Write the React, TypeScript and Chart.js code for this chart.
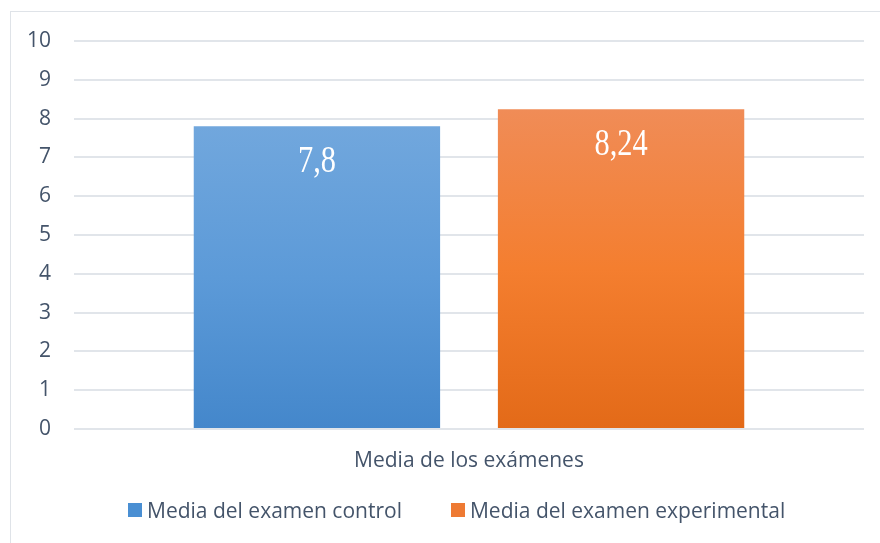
import React, { useEffect, useRef } from 'react';
import { Chart, registerables } from 'chart.js';

Chart.register(...registerables);

const categories = ['Media de los exámenes'];
const seriesNames = ['Media del examen control', 'Media del examen experimental'];
const controlValues = [7.8];
const experimentalValues = [8.24];
const yMin = 0;
const yMax = 10;
const yStep = 1;

const blueStops = ['#71a7dd', '#5c9ad8', '#4487cb'];
const orangeStops = ['#f08c57', '#f47e2f', '#e36a18'];
const legendColors = ['#4a8fd3', '#ee7a33'];

const FONT = '"Open Sans", Lato, sans-serif';
const TEXT_COLOR = '#44546a';

function gradientFill(stops: string[]) {
  return (c: any) => {
    const chart = c.chart;
    const area = chart.chartArea;
    if (!area || c.type !== 'data') return stops[1];
    const top = chart.scales.y.getPixelForValue(c.parsed ? c.parsed.y : c.raw);
    const g = chart.ctx.createLinearGradient(0, top, 0, area.bottom);
    g.addColorStop(0, stops[0]);
    g.addColorStop(0.5, stops[1]);
    g.addColorStop(1, stops[2]);
    return g;
  };
}

const valueLabelPlugin = {
  id: 'valueLabels',
  afterDatasetsDraw(chart: any) {
    const ctx = chart.ctx;
    chart.data.datasets.forEach((ds: any, i: number) => {
      const meta = chart.getDatasetMeta(i);
      meta.data.forEach((bar: any, j: number) => {
        const v = ds.data[j];
        const text = String(v).replace('.', ',');
        ctx.save();
        ctx.translate(bar.x, bar.y + 36);
        ctx.scale(0.8, 1);
        ctx.font = '38px "Liberation Serif", "Times New Roman", serif';
        ctx.fillStyle = '#ffffff';
        ctx.textAlign = 'center';
        ctx.textBaseline = 'middle';
        ctx.fillText(text, 0, 0);
        ctx.restore();
      });
    });
  },
};

export default function App() {
  const canvasRef = useRef<HTMLCanvasElement | null>(null);

  useEffect(() => {
    if (!canvasRef.current) return;
    const chart = new Chart(canvasRef.current, {
      type: 'bar',
      data: {
        labels: categories,
        datasets: [
          {
            label: seriesNames[0],
            data: controlValues,
            backgroundColor: gradientFill(blueStops),
            borderWidth: 0,
            categoryPercentage: 0.77,
            barPercentage: 0.81,
          },
          {
            label: seriesNames[1],
            data: experimentalValues,
            backgroundColor: gradientFill(orangeStops),
            borderWidth: 0,
            categoryPercentage: 0.77,
            barPercentage: 0.81,
          },
        ],
      },
      options: {
        responsive: false,
        animation: false,
        layout: { padding: { left: 10, right: 16, top: 41, bottom: 64 } },
        plugins: {
          legend: { display: false },
          tooltip: { enabled: false },
        },
        scales: {
          x: {
            grid: { display: false, drawTicks: false },
            border: { display: false },
            ticks: {
              color: TEXT_COLOR,
              font: { family: FONT, size: 21 },
              padding: 19,
            },
            afterFit: (s: any) => {
              s.height = 50;
            },
          },
          y: {
            min: yMin,
            max: yMax,
            grid: { color: '#e1e5ea', lineWidth: 2, drawTicks: false },
            border: { display: false },
            ticks: {
              stepSize: yStep,
              color: TEXT_COLOR,
              font: { family: FONT, size: 21 },
              padding: 23,
            },
            afterFit: (s: any) => {
              s.width = 64;
            },
          },
        },
      },
      plugins: [valueLabelPlugin],
    });
    return () => chart.destroy();
  }, []);

  return (
    <div
      style={{
        position: 'fixed',
        left: 0,
        top: 0,
        width: 880,
        height: 543,
        overflow: 'hidden',
        background: '#ffffff',
      }}
    >
      <div
        style={{
          position: 'absolute',
          left: 10,
          top: 11,
          width: 900,
          height: 600,
          border: '1.5px solid #dfe3e8',
        }}
      />
      <canvas
        ref={canvasRef}
        width={880}
        height={543}
        style={{ position: 'absolute', left: 0, top: 0, width: 880, height: 543 }}
      />
      <div
        style={{
          position: 'absolute',
          left: 128,
          top: 496,
          display: 'flex',
          alignItems: 'center',
          gap: 49,
          fontFamily: FONT,
          fontSize: 21,
          color: TEXT_COLOR,
          whiteSpace: 'nowrap',
        }}
      >
        {seriesNames.map((name, i) => (
          <div key={name} style={{ display: 'flex', alignItems: 'center' }}>
            <span
              style={{
                display: 'inline-block',
                width: 14,
                height: 14,
                background: legendColors[i],
                marginRight: 5,
              }}
            />
            <span>{name}</span>
          </div>
        ))}
      </div>
    </div>
  );
}
